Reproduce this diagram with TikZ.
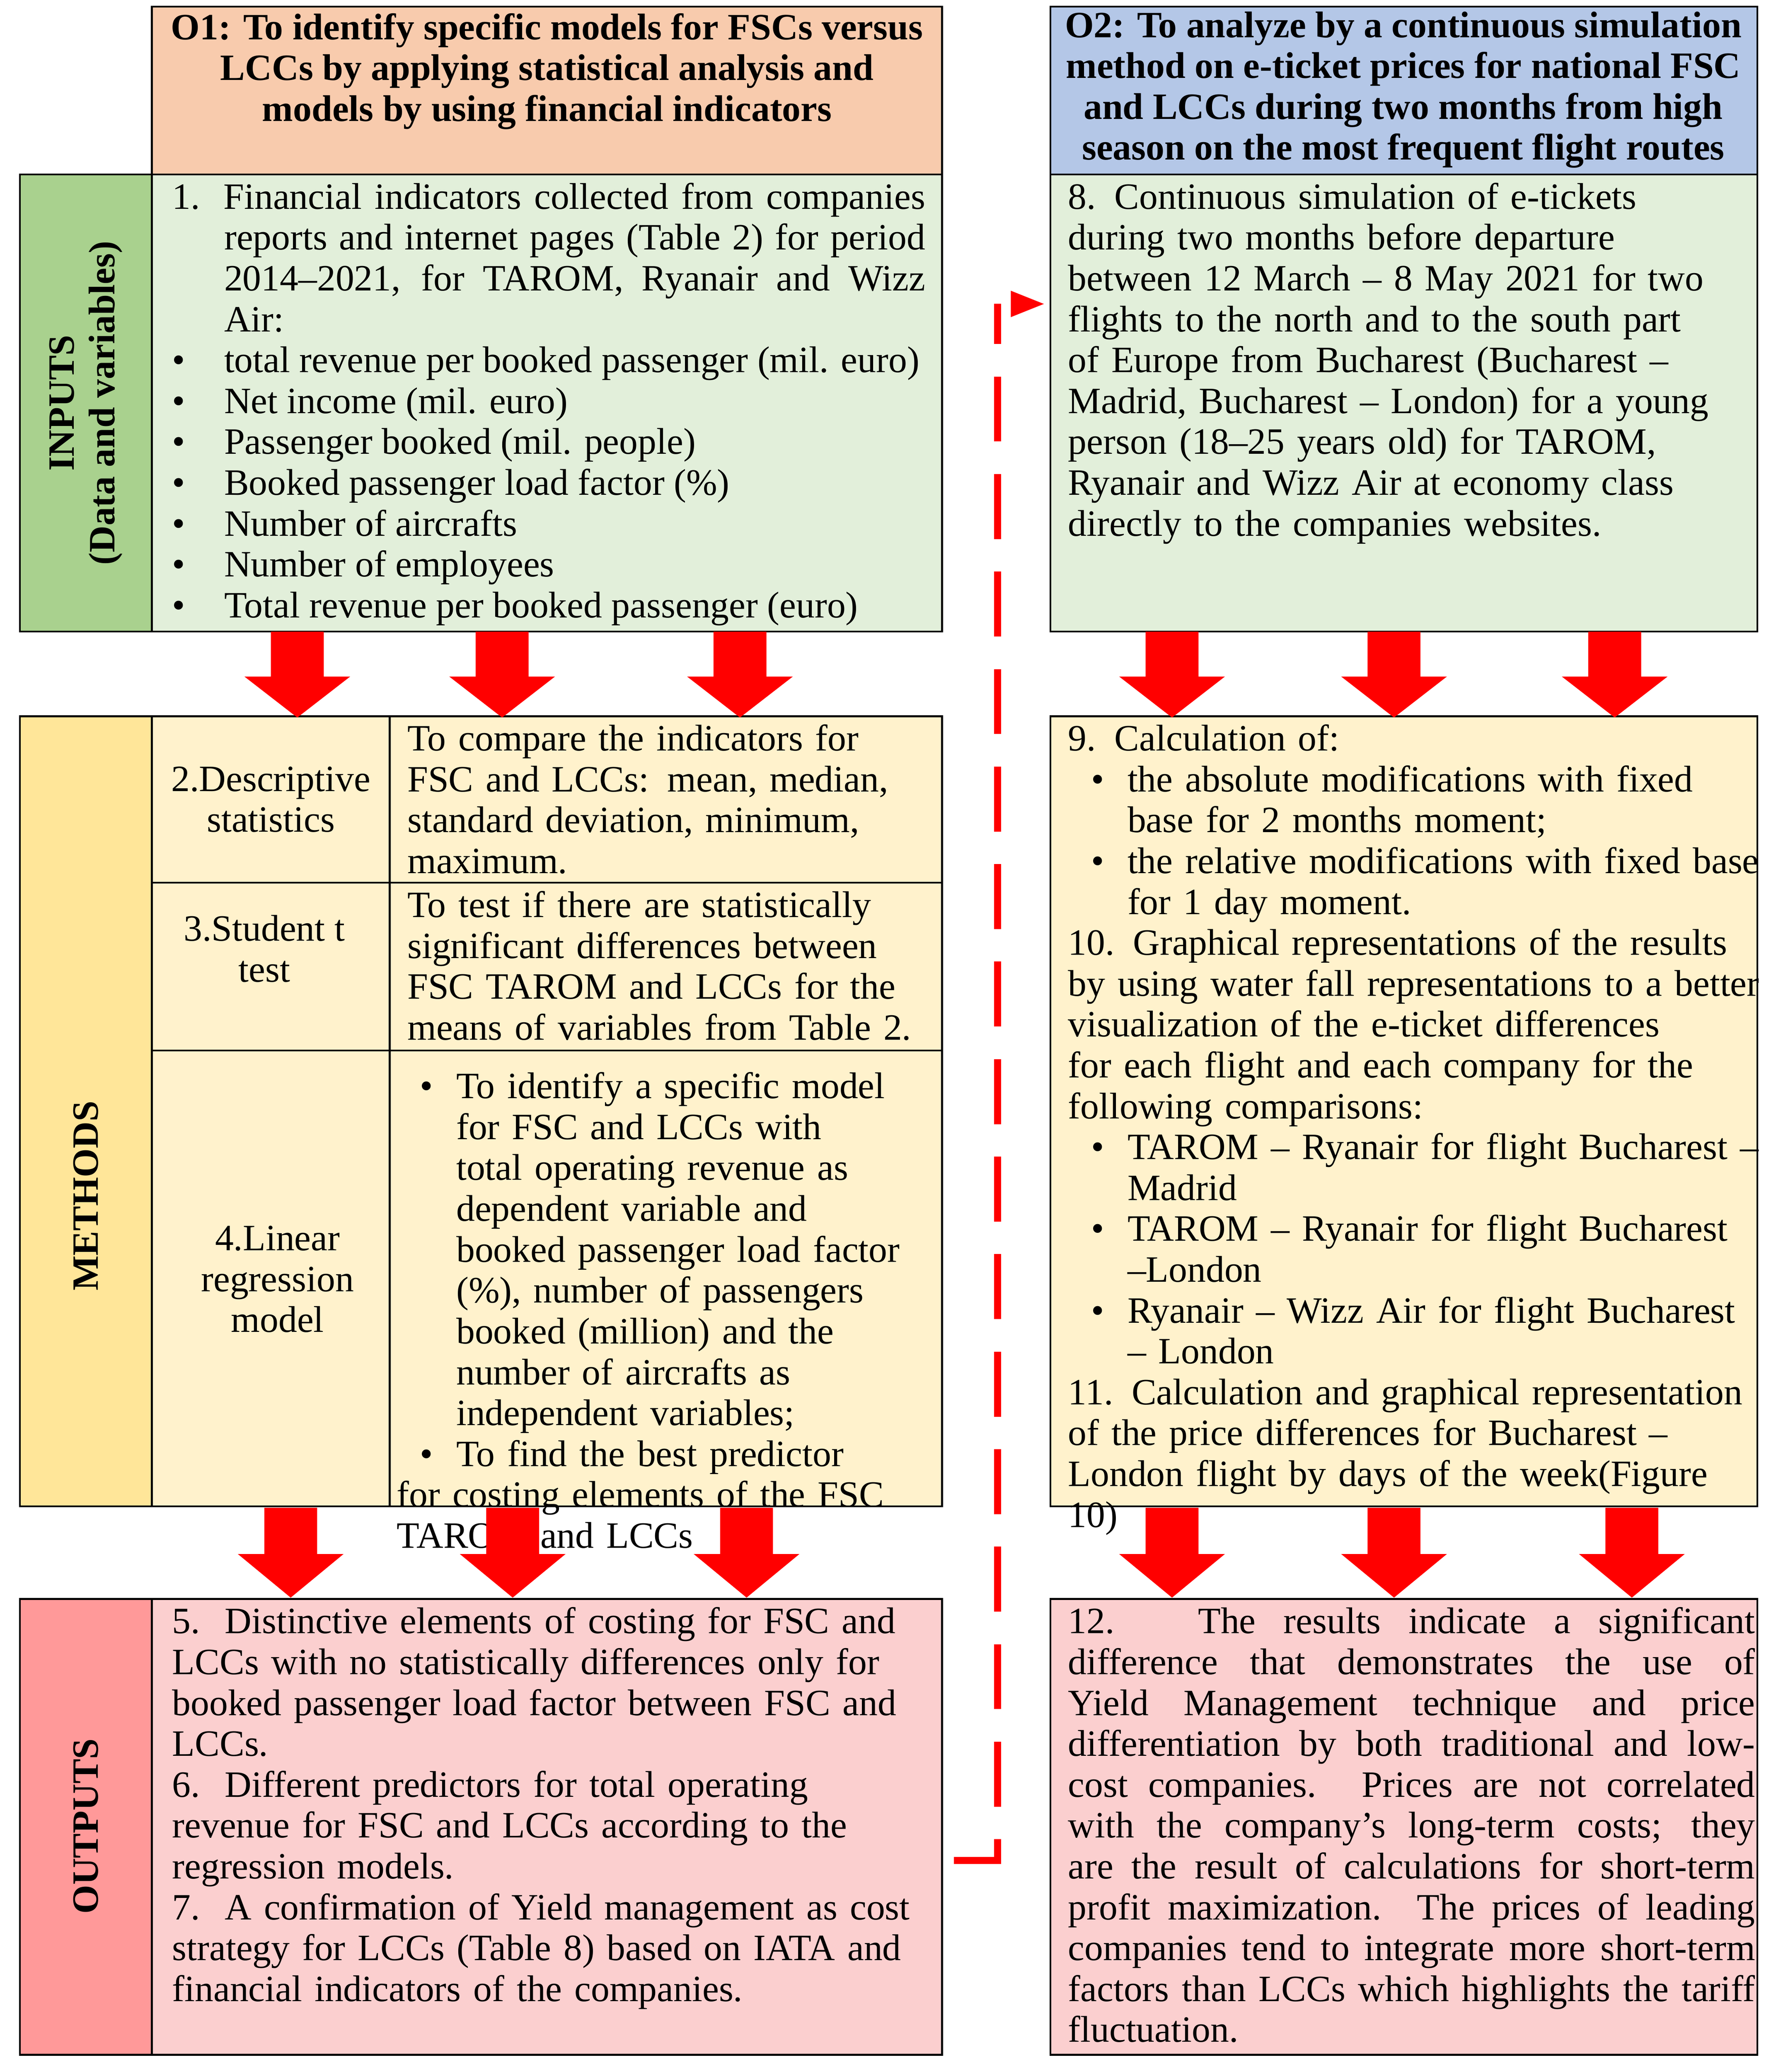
\documentclass[tikz,border=0pt]{standalone}
\usepackage{fontspec}
\setmainfont{Liberation Serif}
\definecolor{orangehd}{HTML}{F8CBAD}
\definecolor{bluehd}{HTML}{B4C7E7}
\definecolor{greenlab}{HTML}{A9D18E}
\definecolor{greenbox}{HTML}{E2EFDA}
\definecolor{yellab}{HTML}{FFE699}
\definecolor{yelbox}{HTML}{FFF2CC}
\definecolor{redlab}{HTML}{FF9999}
\definecolor{redbox}{HTML}{FBCFCF}
\newcommand\bl{\par\noindent\hangindent=1.4em\hangafter=1\makebox[1.4em][l]{\textbullet}}
\newcommand\blx{\par\noindent\hangindent=1.6em\hangafter=1\makebox[1.6em][c]{\textbullet}}
\begin{document}
\fontsize{16}{17.6}\selectfont
\hyphenpenalty=10000
\begin{tikzpicture}[x=0.02cm,y=-0.02cm,
     cell/.style={draw,line width=0.8pt},
     txt/.style={anchor=north west,inner sep=0pt,align=justify},
     hd/.style={anchor=center,align=center,font=\bfseries},
     lab/.style={anchor=center,rotate=90,align=center,font=\bfseries}
   ]
   \path[use as bounding box] (0,0) rectangle (1344,1568);
   % Boxes.
   \draw[cell,fill=orangehd] (115,5) rectangle (713,132);
   \draw[cell,fill=bluehd] (795,5) rectangle (1330,132);
   \draw[cell,fill=greenlab] (15,132) rectangle (115,478);
   \draw[cell,fill=greenbox] (115,132) rectangle (713,478);
   \draw[cell,fill=greenbox] (795,132) rectangle (1330,478);
   \draw[cell,fill=yellab] (15,542) rectangle (115,1140);
   \draw[cell,fill=yelbox] (115,542) rectangle (713,1140);
   \draw[cell] (295,542) -- (295,1140);
   \draw[cell] (115,668) -- (713,668);
   \draw[cell] (115,795) -- (713,795);
   \draw[cell,fill=yelbox] (795,542) rectangle (1330,1140);
   \draw[cell,fill=redlab] (15,1210) rectangle (115,1555);
   \draw[cell,fill=redbox] (115,1210) rectangle (713,1555);
   \draw[cell,fill=redbox] (795,1210) rectangle (1330,1555);
   % Headers and side labels.
   \node[hd] (o1) at (414,54) {O1: To identify specific models for FSCs versus\\LCCs by applying statistical analysis and\\models by using financial indicators};
   \node[hd] (o2) at (1062,68) {O2: To analyze by a continuous simulation\\method on e-ticket prices for national FSC\\and LCCs during two months from high\\season on the most frequent flight routes};
   \node[lab] (inputs) at (65,305) {INPUTS\\(Data and variables)};
   \node[lab] (methods) at (65,905) {METHODS};
   \node[lab] (outputs) at (65,1382) {OUTPUTS};
   % Texts.
   \node[txt,text width=11.4cm] (t1) at (130,138) {\noindent\hangindent=1.4em\hangafter=1 1. Financial indicators collected from companies reports and internet pages (Table 2) for period 2014--2021, for TAROM, Ryanair and Wizz Air:
     \bl total revenue per booked passenger (mil. euro)
     \bl Net income (mil. euro)
     \bl Passenger booked (mil. people)
     \bl Booked passenger load factor (\%)
     \bl Number of aircrafts
     \bl Number of employees
     \bl Total revenue per booked passenger (euro)};
   \node[txt,text width=10.2cm,align=left] (t8) at (808,138) {8. Continuous simulation of e-tickets during two months before departure between 12 March -- 8 May 2021 for two flights to the north and to the south part of Europe from Bucharest (Bucharest -- Madrid, Bucharest -- London) for a young person (18--25 years old) for TAROM, Ryanair and Wizz Air at economy class directly to the companies websites.};
   \node[align=center] (m2) at (205,605) {2.Descriptive\\statistics};
   \node[align=center] (m3) at (200,718) {3.Student t\\test};
   \node[align=center] (m4) at (210,968) {4.Linear\\regression\\model};
   \node[txt,text width=7.9cm,align=left] (d2) at (308,548) {To compare the indicators for FSC and LCCs: mean, median, standard deviation, minimum, maximum.};
   \node[txt,text width=7.9cm,align=left] (d3) at (308,674) {To test if there are statistically significant differences between FSC TAROM and LCCs for the means of variables from Table 2.};
   \node[txt,text width=7.9cm,align=left] (d4) at (300,800) {\blx To identify a specific model for FSC and LCCs with total operating revenue as dependent variable and booked passenger load factor (\%), number of passengers booked (million) and the number of aircrafts as independent variables;
     \blx To find the best predictor for costing elements of the FSC TAROM and LCCs};
   \node[txt,text width=10.5cm,align=left] (t9) at (808,548) {9. Calculation of:
     \blx the absolute modifications with fixed base for 2 months moment;
     \blx the relative modifications with fixed base for 1 day moment.
     \par\noindent 10. Graphical representations of the results by using water fall representations to a better visualization of the e-ticket differences for each flight and each company for the following comparisons:
     \blx TAROM -- Ryanair for flight Bucharest -- Madrid
     \blx TAROM -- Ryanair for flight Bucharest --London
     \blx Ryanair -- Wizz Air for flight Bucharest -- London
     \par\noindent 11. Calculation and graphical representation of the price differences for Bucharest -- London flight by days of the week(Figure 10)};
   \node[txt,text width=11.4cm,align=left] (t5) at (130,1216) {5.\ \ Distinctive elements of costing for FSC and LCCs with no statistically differences only for booked passenger load factor between FSC and LCCs.\par
     6.\ \ Different predictors for total operating revenue for FSC and LCCs according to the regression models.\par
     7.\ \ A confirmation of Yield management as cost strategy for LCCs (Table 8) based on IATA and financial indicators of the companies.};
   \node[txt,text width=10.4cm] (t12) at (808,1216) {12.\ \ \ The results indicate a significant difference that demonstrates the use of Yield Management technique and price differentiation by both traditional and low-cost companies. Prices are not correlated with the company's long-term costs; they are the result of calculations for short-term profit maximization. The prices of leading companies tend to integrate more short-term factors than LCCs which highlights the tariff fluctuation.};
   % Block arrows.
   \foreach \x in {225,380,560,887,1055,1222}
     \fill[red] (\x-20,478) -- (\x+20,478) -- (\x+20,512) -- (\x+40,512)
       -- (\x,543) -- (\x-40,512) -- (\x-20,512) -- cycle;
   \foreach \x in {220,388,565,887,1055,1235}
     \fill[red] (\x-20,1141) -- (\x+20,1141) -- (\x+20,1176) -- (\x+40,1176)
       -- (\x,1209) -- (\x-40,1176) -- (\x-20,1176) -- cycle;
   % Link between objectives.
   \coordinate (ds) at (722,1408);
   \coordinate (dc) at (755,1408);
   \coordinate (dt) at (755,230);
   \coordinate (de) at (790,230);
   \draw[red,line width=3pt,dash pattern=on 28pt off 14pt] (ds) -- (dc) -- (dt);
   \fill[red] (765,220) -- (790,230) -- (765,240) -- cycle;
 \end{tikzpicture}
\end{document}
